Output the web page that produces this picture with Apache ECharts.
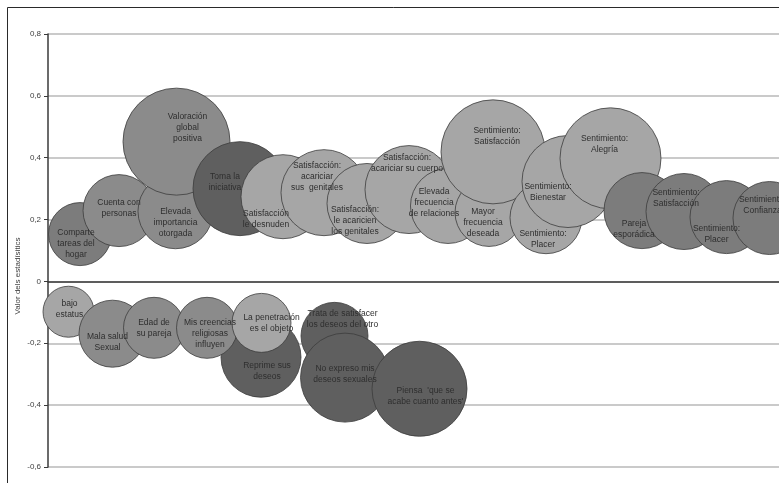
<!DOCTYPE html>
<html>
<head>
<meta charset="utf-8">
<script src="https://cdn.jsdelivr.net/npm/echarts@6/dist/echarts.min.js"></script>
<style>
html,body{margin:0;padding:0;background:#fff;}
#chart{width:779px;height:483px;}
</style>
</head>
<body>
<div id="chart"></div>
<script>
// ---- data (drawing order: later items are on top) ----
const bubbleLabels = [
  "Comparte\ntareas del\nhogar",
  "Cuenta con\npersonas",
  "Elevada\nimportancia\notorgada",
  "Valoración\nglobal\npositiva",
  "Toma la\niniciativa",
  "Satisfacción\nle desnuden",
  "Satisfacción:\nacariciar\nsus  genitales",
  "Satisfacción:\nle acaricien\nlos genitales",
  "Satisfacción:\nacariciar su cuerpo",
  "Elevada\nfrecuencia\nde relaciones",
  "Mayor\nfrecuencia\ndeseada",
  "Sentimiento:\nSatisfacción",
  "Sentimiento:\nPlacer",
  "Sentimiento:\nBienestar",
  "Sentimiento:\nAlegría",
  "Pareja\nesporádica",
  "Sentimiento:\nSatisfacción",
  "Sentimiento:\nPlacer",
  "Sentimiento:\nConfianza",
  "bajo\nestatus",
  "Mala salud\nSexual",
  "Edad de\nsu pareja",
  "Reprime sus\ndeseos",
  "Mis creencias\nreligiosas\ninfluyen",
  "La penetración\nes el objeto",
  "Trata de satisfacer\nlos deseos del otro",
  "No expreso mis\ndeseos sexuales",
  "Piensa  'que se\nacabe cuanto antes'"
];
const xValues = [3.2, 7.1, 12.75, 12.85, 19.2, 23.5, 27.6, 31.9, 36.1, 40.0, 44.1, 44.5, 49.8, 52.0, 56.25, 59.4, 63.6, 67.85, 72.15,
                 2.05, 6.45, 10.6, 21.3, 15.9, 21.35, 28.65, 29.7, 37.15];
const yValues = [0.153, 0.229, 0.227, 0.452, 0.300, 0.274, 0.287, 0.252, 0.297, 0.244, 0.223, 0.419, 0.206, 0.323, 0.398, 0.229, 0.226, 0.208, 0.205,
                 -0.098, -0.169, -0.150, -0.245, -0.150, -0.134, -0.176, -0.311, -0.347];
const bubbleValues = [39.7, 51.8, 56.3, 114.5, 88.4, 70.6, 74.0, 64.0, 77.4, 56.3, 46.2, 108.2, 51.8, 84.6, 102.0, 57.8, 57.8, 53.3, 53.3,
                      26.0, 44.9, 37.2, 64.0, 37.2, 34.8, 44.9, 79.2, 90.3];
const groups = ["B","C","C","C","D","A","A","A","A","A","A","A","A","A","A","B","B","B","B",
                "A","C","C","D","C","A","D","D","D"];
const yTicks = [-0.6, -0.4, -0.2, 0, 0.2, 0.4, 0.6, 0.8];
const xRange = [0, 73.1];

// ---- styles ----
const groupColors = {A: "#a6a6a6", B: "#7c7c7c", C: "#8b8b8b", D: "#5f5f5f"};
const labelShift = [[-4,10],[0,-2],[0,11],[11,-14],[-15,-6],[-17,22],[-7,-16],[-12,17],[-2,-26],[-14,-3],[-6,10],[4,-16],[-3,21],[-20,11],[-6,-14],[-8,19],[-8,-13],[-10,17],[-7,-13],
                    [1,-3],[-5,8],[0,0],[6,14],[3,6],[10,0],[8,-17],[0,-3],[6,7]];
const sizeScale = 10;

const seriesData = bubbleLabels.map((name, i) => ({
  name: name,
  value: [xValues[i], yValues[i], bubbleValues[i]],
  itemStyle: {color: groupColors[groups[i]]},
  label: {offset: labelShift[i]}
}));

const chart = echarts.init(document.getElementById('chart'), null, {renderer: 'canvas'});
chart.setOption({
  animation: false,
  backgroundColor: '#ffffff',
  grid: {left: 48, top: 34, right: 0, height: 433, containLabel: false},
  xAxis: {
    type: 'value', min: xRange[0], max: xRange[1],
    axisLine: {onZero: true, lineStyle: {color: '#3a3a3a', width: 1.5}},
    axisTick: {show: false}, axisLabel: {show: false}, splitLine: {show: false}
  },
  yAxis: {
    type: 'value', min: yTicks[0], max: yTicks[yTicks.length - 1], interval: 0.2,
    axisLine: {show: true, lineStyle: {color: '#3a3a3a', width: 1.5}},
    axisTick: {show: true, inside: false, length: 4, lineStyle: {color: '#3a3a3a'}},
    axisLabel: {
      margin: 7, color: '#404040', fontSize: 8, fontFamily: 'Liberation Sans',
      formatter: v => String(Math.round(v * 10) / 10).replace('.', ',')
    },
    splitLine: {show: true, lineStyle: {color: '#b8b8b8', width: 1.5}}
  },
  graphic: [
    {type: 'rect', shape: {x: 7.5, y: 7.5, width: 800, height: 500}, style: {fill: 'none', stroke: '#2a2a2a', lineWidth: 1}, silent: true},
    {type: 'text', x: 18, y: 276, rotation: Math.PI / 2,
     style: {text: 'Valor dels estadísitics', fill: '#404040', font: '8px "Liberation Sans"', align: 'center', verticalAlign: 'middle'}}
  ],
  series: [{
    type: 'scatter',
    clip: false,
    data: seriesData,
    symbolSize: v => Math.sqrt(v[2]) * sizeScale,
    itemStyle: {borderColor: '#3c3c3c', borderWidth: 0.8, opacity: 1},
    label: {
      show: true, position: 'inside',
      formatter: p => p.name,
      color: '#2e2e2e', fontSize: 8.5, lineHeight: 11, fontFamily: 'Liberation Sans',
      align: 'center', verticalAlign: 'middle'
    },
    emphasis: {disabled: true}
  }]
});
</script>
</body>
</html>
